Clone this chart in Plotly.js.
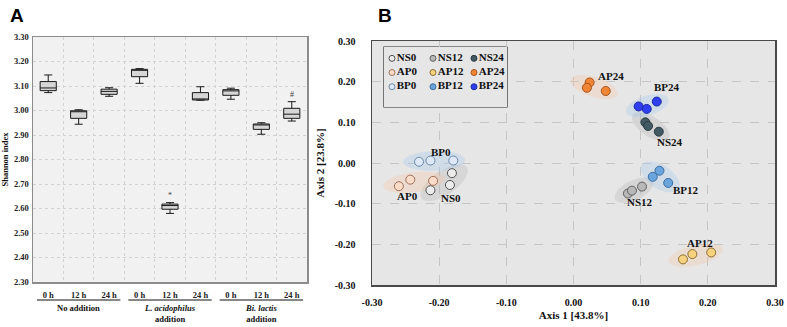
<!DOCTYPE html>
<html>
<head>
<meta charset="utf-8">
<script src="https://cdn.plot.ly/plotly-3.0.1.min.js"></script>
<style>
  html, body { margin: 0; padding: 0; background: #ffffff; }
  #chart { width: 787px; height: 327px; }
</style>
</head>
<body>
<div id="chart"></div>
<script>
// ---------- Panel A: Shannon index box plots ----------
const treatments = ['No addition', '<i>L. acidophilus</i><br>addition', '<i>Bi. lactis</i><br>addition'];
const timePoints = ['0 h', '12 h', '24 h'];
const shannonLower  = [3.073, 2.944, 3.058, 3.111, 2.580, 3.042, 3.046, 2.903, 2.957];
const shannonQ1     = [3.081, 2.968, 3.066, 3.138, 2.597, 3.043, 3.062, 2.923, 2.968];
const shannonMedian = [3.092, 2.997, 3.078, 3.165, 2.612, 3.046, 3.080, 2.942, 2.985];
const shannonQ3     = [3.118, 2.999, 3.087, 3.168, 2.618, 3.073, 3.085, 2.945, 3.009];
const shannonUpper  = [3.145, 3.003, 3.093, 3.171, 2.624, 3.097, 3.091, 2.950, 3.036];
const significance  = ['', '', '', '', '*', '', '', '', '#'];
const shannonTicks  = [2.3, 2.4, 2.5, 2.6, 2.7, 2.8, 2.9, 3.0, 3.1, 3.2, 3.3];

// ---------- Panel B: PCoA ----------
const groupNames = ['NS0', 'NS12', 'NS24', 'AP0', 'AP12', 'AP24', 'BP0', 'BP12', 'BP24'];
const axis1 = [
  [-0.181, -0.184, -0.213],
  [0.081, 0.087, 0.102],
  [0.107, 0.111, 0.127],
  [-0.260, -0.243, -0.209],
  [0.163, 0.177, 0.205],
  [0.024, 0.020, 0.048],
  [-0.230, -0.213, -0.179],
  [0.118, 0.128, 0.141],
  [0.097, 0.109, 0.124]
];
const axis2 = [
  [-0.025, -0.054, -0.067],
  [-0.075, -0.068, -0.058],
  [0.100, 0.091, 0.077],
  [-0.057, -0.041, -0.044],
  [-0.237, -0.224, -0.220],
  [0.198, 0.185, 0.177],
  [0.003, 0.006, 0.006],
  [-0.034, -0.019, -0.049],
  [0.139, 0.133, 0.151]
];
const pcoaTicks = [-0.3, -0.2, -0.1, 0, 0.1, 0.2, 0.3];
const pcoaTickText = ['-0.30', '-0.20', '-0.10', '0.00', '0.10', '0.20', '0.30'];

// ---------- styling ----------
const serif = 'Liberation Serif, Times New Roman, serif';
const fillColors = ['#ececec', '#b8b8b8', '#415a64', '#fbdcc8', '#f7d27e', '#f08536', '#dde9f7', '#6aa6dd', '#2f3ff0'];
const edgeColors = ['#505050', '#606060', '#2b3a40', '#a0705a', '#8a6d35', '#a5531c', '#6a88aa', '#3c6e9c', '#1c2aa0'];
const hullColors = ['rgba(165,165,165,0.24)', 'rgba(165,165,165,0.24)', 'rgba(165,165,165,0.26)',
                    'rgba(250,190,150,0.26)', 'rgba(250,195,150,0.26)', 'rgba(250,190,150,0.28)',
                    'rgba(165,200,240,0.32)', 'rgba(165,200,240,0.32)', 'rgba(165,200,240,0.32)'];
const labelShiftX = [7, 6, 19, -7, 4, 17, 7, 26, 20];
const labelShiftY = [-15, -12, -15.5, -14, 12, 11, 9, -13, 19];

const W = 787, H = 327;
const domA = { x: [33 / W, 307 / W], y: [1 - 282 / H, 1 - 37 / H] };
const domB = { x: [372 / W, 775 / W], y: [1 - 285 / H, 1 - 41 / H] };
const domLeg = { x: [384 / W, 507 / W], y: [1 - 107 / H, 1 - 47 / H] };

// pixels per data unit in panel B (used to shape the group ellipses)
const pxPerX = (domB.x[1] - domB.x[0]) * W / 0.6;
const pxPerY = (domB.y[1] - domB.y[0]) * H / 0.6;

function groupEllipse(xs, ys) {
  const P = xs.map((x, i) => [x * pxPerX, ys[i] * pxPerY]);
  const n = P.length;
  const cx = P.reduce((s, p) => s + p[0], 0) / n;
  const cy = P.reduce((s, p) => s + p[1], 0) / n;
  let sxx = 0, syy = 0, sxy = 0;
  P.forEach(p => { const dx = p[0] - cx, dy = p[1] - cy; sxx += dx * dx; syy += dy * dy; sxy += dx * dy; });
  const ang = 0.5 * Math.atan2(2 * sxy, sxx - syy);
  const ux = Math.cos(ang), uy = Math.sin(ang), vx = -uy, vy = ux;
  let ma = 0, mb = 0;
  P.forEach(p => {
    const dx = p[0] - cx, dy = p[1] - cy;
    ma = Math.max(ma, Math.abs(dx * ux + dy * uy));
    mb = Math.max(mb, Math.abs(dx * vx + dy * vy));
  });
  const a = ma + 12, b = Math.max(mb + 7, 10);
  const ex = [], ey = [];
  for (let k = 0; k <= 60; k++) {
    const t = 2 * Math.PI * k / 60;
    const X = cx + a * Math.cos(t) * ux + b * Math.sin(t) * vx;
    const Y = cy + a * Math.cos(t) * uy + b * Math.sin(t) * vy;
    ex.push(X / pxPerX); ey.push(Y / pxPerY);
  }
  return { x: ex, y: ey, cx: cx / pxPerX, cy: cy / pxPerY };
}

const traces = [];

// Panel A boxes
const positions = shannonMedian.map((_, i) => i);
traces.push({
  type: 'box', xaxis: 'x', yaxis: 'y',
  x: positions,
  lowerfence: shannonLower, q1: shannonQ1, median: shannonMedian, q3: shannonQ3, upperfence: shannonUpper,
  width: 0.53, whiskerwidth: 0.5,
  fillcolor: '#d6d6d6', line: { color: '#1a1a1a', width: 1 },
  boxpoints: false, hoverinfo: 'skip', showlegend: false
});

// Panel B ellipses, points and legend entries
const ellipses = groupNames.map((_, g) => groupEllipse(axis1[g], axis2[g]));
ellipses.forEach((e, g) => {
  traces.push({
    type: 'scatter', mode: 'lines', xaxis: 'x2', yaxis: 'y2',
    x: e.x, y: e.y, fill: 'toself', fillcolor: hullColors[g],
    line: { width: 0 }, hoverinfo: 'skip', showlegend: false
  });
});
groupNames.forEach((name, g) => {
  traces.push({
    type: 'scatter', mode: 'markers', xaxis: 'x2', yaxis: 'y2', name: name,
    x: axis1[g], y: axis2[g],
    marker: { size: 9, color: fillColors[g], line: { color: edgeColors[g], width: 1 } },
    hoverinfo: 'skip', showlegend: false
  });
});
groupNames.forEach((name, g) => {
  traces.push({
    type: 'scatter', mode: 'markers+text', xaxis: 'x3', yaxis: 'y3',
    x: [g % 3], y: [Math.floor(g / 3)], text: [name], textposition: 'middle right',
    textfont: { family: serif, size: 11, color: '#111', weight: 700 },
    marker: { size: 6, color: fillColors[g], line: { color: edgeColors[g], width: 1 } },
    hoverinfo: 'skip', showlegend: false, cliponaxis: false
  });
});

// annotations
const annotations = [];
annotations.push({ xref: 'paper', yref: 'paper', x: 8 / W, y: 1 - 3 / H, xanchor: 'left', yanchor: 'top',
  text: 'A', showarrow: false, font: { family: 'Liberation Sans, Arial, sans-serif', size: 19, color: '#000', weight: 700 } });
annotations.push({ xref: 'paper', yref: 'paper', x: 376 / W, y: 1 - 3 / H, xanchor: 'left', yanchor: 'top',
  text: 'B', showarrow: false, font: { family: 'Liberation Sans, Arial, sans-serif', size: 19, color: '#000', weight: 700 } });
treatments.forEach((t, k) => {
  annotations.push({ xref: 'x', yref: 'paper', x: 3 * k + 1, y: 1 - 301 / H, xanchor: 'center', yanchor: 'top',
    text: t, showarrow: false, font: { family: serif, size: 8.5, color: '#111', weight: 700 } });
});
significance.forEach((s, i) => {
  if (!s) return;
  annotations.push({ xref: 'x', yref: 'y', x: i, y: shannonUpper[i], yanchor: 'bottom', yshift: 1,
    text: s, showarrow: false, font: { family: serif, size: 8, color: '#444' } });
});
ellipses.forEach((e, g) => {
  annotations.push({ xref: 'x2', yref: 'y2', x: e.cx, y: e.cy, xshift: labelShiftX[g], yshift: labelShiftY[g],
    text: groupNames[g], showarrow: false, font: { family: serif, size: 11, color: '#111', weight: 700 } });
});

// shapes: panel backgrounds, treatment underlines, legend frame
const shapes = [];
shapes.push({ type: 'rect', xref: 'x domain', yref: 'y domain', x0: 0, x1: 1, y0: 0, y1: 1,
  fillcolor: '#f1f1f1', line: { width: 0 }, layer: 'below' });
treatments.forEach((_, k) => {
  shapes.push({ type: 'line', xref: 'x', yref: 'paper', x0: 3 * k - 0.37, x1: 3 * k + 2.37,
    y0: 1 - 300 / H, y1: 1 - 300 / H, line: { color: '#111', width: 1 } });
});
shapes.push({ type: 'rect', xref: 'x3 domain', yref: 'y3 domain', x0: 0, x1: 1, y0: 0, y1: 1,
  fillcolor: '#e6e6e6', line: { color: '#2a2a2a', width: 1.2 }, layer: 'below' });

const tickFontA = { family: serif, size: 8.5, color: '#222', weight: 700 };
const tickFontB = { family: serif, size: 10, color: '#111', weight: 700 };

const layout = {
  width: W, height: H,
  margin: { l: 0, r: 0, t: 0, b: 0 },
  paper_bgcolor: '#ffffff', plot_bgcolor: '#e6e6e6',
  showlegend: false,
  xaxis: {
    domain: domA.x, anchor: 'y', range: [-0.5, 8.5],
    tickmode: 'array', tickvals: positions, ticktext: positions.map(i => timePoints[i % 3]),
    tickfont: tickFontA, ticks: '', ticklabelstandoff: 4,
    showgrid: false, zeroline: false,
    minor: { tick0: 0.5, dtick: 1, showgrid: true, gridcolor: '#d2d2d2', griddash: 'dot', gridwidth: 1, ticks: '' },
    showline: true, mirror: true, linecolor: '#8c8c8c', linewidth: 1.5, fixedrange: true
  },
  yaxis: {
    domain: domA.y, anchor: 'x', range: [2.3, 3.3],
    tickmode: 'array', tickvals: shannonTicks, tickformat: '.2f',
    tickfont: tickFontA, ticks: '', ticklabelstandoff: 1,
    showgrid: true, gridcolor: '#d2d2d2', griddash: 'dot', gridwidth: 1, zeroline: false,
    showline: true, mirror: true, linecolor: '#8c8c8c', linewidth: 1.5,
    title: { text: 'Shannon index', font: { family: serif, size: 8.5, color: '#111', weight: 700 }, standoff: 5 },
    fixedrange: true
  },
  xaxis2: {
    domain: domB.x, anchor: 'y2', range: [-0.3, 0.3],
    tickmode: 'array', tickvals: pcoaTicks, ticktext: pcoaTickText,
    tickfont: tickFontB, ticks: '', ticklabelstandoff: 7,
    showgrid: true, gridcolor: '#c6c6c6', griddash: 'dash', gridwidth: 1, zeroline: false,
    showline: true, mirror: true, linecolor: '#4a4a4a', linewidth: 1.5,
    title: { text: 'Axis 1 [43.8%]', font: { family: serif, size: 11, color: '#111', weight: 700 }, standoff: 5 },
    fixedrange: true
  },
  yaxis2: {
    domain: domB.y, anchor: 'x2', range: [-0.3, 0.3],
    tickmode: 'array', tickvals: pcoaTicks, ticktext: pcoaTickText,
    tickfont: tickFontB, ticks: '', ticklabelstandoff: 13,
    showgrid: true, gridcolor: '#c6c6c6', griddash: 'dash', gridwidth: 1, zeroline: false,
    showline: true, mirror: true, linecolor: '#4a4a4a', linewidth: 1.5,
    title: { text: 'Axis 2 [23.8%]', font: { family: serif, size: 11, color: '#111', weight: 700 }, standoff: 8 },
    fixedrange: true
  },
  xaxis3: { domain: domLeg.x, anchor: 'y3', range: [-0.195, 2.805], visible: false, fixedrange: true },
  yaxis3: { domain: domLeg.y, anchor: 'x3', range: [3.43, -0.8], visible: false, fixedrange: true },
  annotations: annotations,
  shapes: shapes
};

Plotly.newPlot('chart', traces, layout, { staticPlot: true, displayModeBar: false });
</script>
</body>
</html>
